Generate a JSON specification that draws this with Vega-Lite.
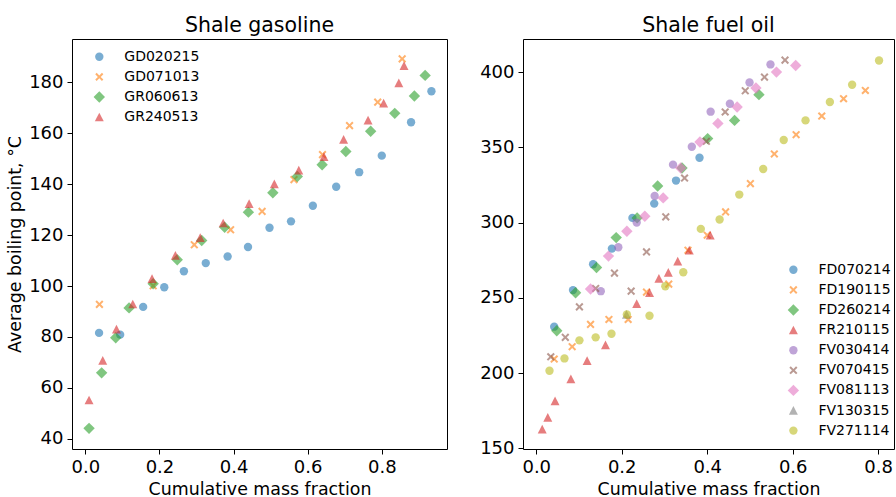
{
  "$schema": "https://vega.github.io/schema/vega-lite/v6.json",
  "padding": {"left": 6, "top": 15, "right": 0, "bottom": 0},
  "spacing": 31,
  "datasets": {
    "gas": [
      {"s":"GD020215","x":0.037,"y":81.6},{"s":"GD020215","x":0.094,"y":80.9},{"s":"GD020215","x":0.156,"y":91.8},{"s":"GD020215","x":0.213,"y":99.5},{"s":"GD020215","x":0.266,"y":105.8},{"s":"GD020215","x":0.325,"y":109.0},{"s":"GD020215","x":0.384,"y":111.6},{"s":"GD020215","x":0.439,"y":115.3},{"s":"GD020215","x":0.497,"y":122.9},{"s":"GD020215","x":0.555,"y":125.4},{"s":"GD020215","x":0.614,"y":131.5},{"s":"GD020215","x":0.677,"y":139.0},{"s":"GD020215","x":0.739,"y":144.7},{"s":"GD020215","x":0.800,"y":151.2},{"s":"GD020215","x":0.879,"y":164.3},{"s":"GD020215","x":0.934,"y":176.5},
      {"s":"GD071013","x":0.038,"y":92.8},{"s":"GD071013","x":0.183,"y":100.1},{"s":"GD071013","x":0.294,"y":116.2},{"s":"GD071013","x":0.392,"y":122.1},{"s":"GD071013","x":0.477,"y":129.3},{"s":"GD071013","x":0.563,"y":141.8},{"s":"GD071013","x":0.640,"y":151.6},{"s":"GD071013","x":0.713,"y":163.0},{"s":"GD071013","x":0.789,"y":172.2},{"s":"GD071013","x":0.855,"y":189.2},
      {"s":"GR060613","x":0.010,"y":44.1},{"s":"GR060613","x":0.044,"y":65.9},{"s":"GR060613","x":0.082,"y":79.7},{"s":"GR060613","x":0.118,"y":91.4},{"s":"GR060613","x":0.183,"y":100.9},{"s":"GR060613","x":0.248,"y":110.3},{"s":"GR060613","x":0.314,"y":117.9},{"s":"GR060613","x":0.376,"y":123.1},{"s":"GR060613","x":0.440,"y":129.0},{"s":"GR060613","x":0.506,"y":136.6},{"s":"GR060613","x":0.572,"y":143.0},{"s":"GR060613","x":0.639,"y":147.6},{"s":"GR060613","x":0.703,"y":152.8},{"s":"GR060613","x":0.770,"y":160.8},{"s":"GR060613","x":0.835,"y":167.8},{"s":"GR060613","x":0.888,"y":174.6},{"s":"GR060613","x":0.917,"y":182.7},
      {"s":"GR240513","x":0.010,"y":55.2},{"s":"GR240513","x":0.047,"y":70.8},{"s":"GR240513","x":0.084,"y":83.0},{"s":"GR240513","x":0.128,"y":92.9},{"s":"GR240513","x":0.180,"y":102.9},{"s":"GR240513","x":0.243,"y":112.0},{"s":"GR240513","x":0.310,"y":119.0},{"s":"GR240513","x":0.372,"y":124.7},{"s":"GR240513","x":0.442,"y":132.3},{"s":"GR240513","x":0.510,"y":140.1},{"s":"GR240513","x":0.576,"y":145.5},{"s":"GR240513","x":0.644,"y":150.8},{"s":"GR240513","x":0.697,"y":157.5},{"s":"GR240513","x":0.763,"y":165.1},{"s":"GR240513","x":0.805,"y":171.8},{"s":"GR240513","x":0.846,"y":179.7},{"s":"GR240513","x":0.860,"y":186.5}
    ],
    "oil": [
      {"s":"FD070214","x":0.042,"y":230.8},{"s":"FD070214","x":0.086,"y":255.1},{"s":"FD070214","x":0.133,"y":272.3},{"s":"FD070214","x":0.177,"y":282.7},{"s":"FD070214","x":0.225,"y":303.1},{"s":"FD070214","x":0.276,"y":312.6},{"s":"FD070214","x":0.327,"y":327.9},{"s":"FD070214","x":0.382,"y":343.1},
      {"s":"FD190115","x":0.042,"y":209.3},{"s":"FD190115","x":0.084,"y":217.5},{"s":"FD190115","x":0.127,"y":232.3},{"s":"FD190115","x":0.170,"y":235.6},{"s":"FD190115","x":0.215,"y":235.6},{"s":"FD190115","x":0.258,"y":253.8},{"s":"FD190115","x":0.310,"y":259.1},{"s":"FD190115","x":0.355,"y":281.6},{"s":"FD190115","x":0.400,"y":291.6},{"s":"FD190115","x":0.443,"y":307.1},{"s":"FD190115","x":0.501,"y":325.9},{"s":"FD190115","x":0.557,"y":345.6},{"s":"FD190115","x":0.608,"y":358.4},{"s":"FD190115","x":0.668,"y":370.8},{"s":"FD190115","x":0.719,"y":382.3},{"s":"FD190115","x":0.770,"y":387.8},
      {"s":"FD260214","x":0.048,"y":228.1},{"s":"FD260214","x":0.092,"y":253.3},{"s":"FD260214","x":0.141,"y":270.1},{"s":"FD260214","x":0.187,"y":290.0},{"s":"FD260214","x":0.236,"y":303.1},{"s":"FD260214","x":0.284,"y":324.3},{"s":"FD260214","x":0.341,"y":336.3},{"s":"FD260214","x":0.401,"y":355.8},{"s":"FD260214","x":0.464,"y":367.9},{"s":"FD260214","x":0.521,"y":385.0},
      {"s":"FR210115","x":0.014,"y":162.6},{"s":"FR210115","x":0.027,"y":170.4},{"s":"FR210115","x":0.044,"y":181.4},{"s":"FR210115","x":0.081,"y":196.0},{"s":"FR210115","x":0.119,"y":208.2},{"s":"FR210115","x":0.162,"y":218.6},{"s":"FR210115","x":0.235,"y":246.0},{"s":"FR210115","x":0.265,"y":253.3},{"s":"FR210115","x":0.287,"y":262.8},{"s":"FR210115","x":0.309,"y":266.8},{"s":"FR210115","x":0.331,"y":274.3},{"s":"FR210115","x":0.358,"y":281.6},{"s":"FR210115","x":0.407,"y":291.6},
      {"s":"FV030414","x":0.151,"y":254.4},{"s":"FV030414","x":0.192,"y":283.6},{"s":"FV030414","x":0.235,"y":300.0},{"s":"FV030414","x":0.277,"y":317.7},{"s":"FV030414","x":0.320,"y":338.5},{"s":"FV030414","x":0.364,"y":350.4},{"s":"FV030414","x":0.408,"y":373.7},{"s":"FV030414","x":0.453,"y":379.0},{"s":"FV030414","x":0.499,"y":393.1},{"s":"FV030414","x":0.548,"y":405.1},
      {"s":"FV070415","x":0.034,"y":210.8},{"s":"FV070415","x":0.068,"y":223.7},{"s":"FV070415","x":0.101,"y":244.0},{"s":"FV070415","x":0.139,"y":256.2},{"s":"FV070415","x":0.183,"y":266.4},{"s":"FV070415","x":0.222,"y":254.4},{"s":"FV070415","x":0.258,"y":280.5},{"s":"FV070415","x":0.303,"y":303.8},{"s":"FV070415","x":0.347,"y":329.6},{"s":"FV070415","x":0.398,"y":354.0},{"s":"FV070415","x":0.442,"y":373.5},{"s":"FV070415","x":0.489,"y":387.6},{"s":"FV070415","x":0.534,"y":396.7},{"s":"FV070415","x":0.582,"y":408.0},
      {"s":"FV081113","x":0.127,"y":255.8},{"s":"FV081113","x":0.169,"y":277.7},{"s":"FV081113","x":0.212,"y":294.2},{"s":"FV081113","x":0.254,"y":304.2},{"s":"FV081113","x":0.297,"y":316.4},{"s":"FV081113","x":0.338,"y":336.3},{"s":"FV081113","x":0.383,"y":353.5},{"s":"FV081113","x":0.425,"y":365.9},{"s":"FV081113","x":0.470,"y":376.8},{"s":"FV081113","x":0.514,"y":389.4},{"s":"FV081113","x":0.562,"y":400.0},{"s":"FV081113","x":0.607,"y":404.4},
      {"s":"FV130315","x":0.211,"y":238.9},
      {"s":"FV271114","x":0.031,"y":201.5},{"s":"FV271114","x":0.066,"y":209.7},{"s":"FV271114","x":0.101,"y":221.7},{"s":"FV271114","x":0.139,"y":223.7},{"s":"FV271114","x":0.176,"y":226.1},{"s":"FV271114","x":0.212,"y":238.9},{"s":"FV271114","x":0.265,"y":238.1},{"s":"FV271114","x":0.302,"y":257.7},{"s":"FV271114","x":0.344,"y":267.0},{"s":"FV271114","x":0.385,"y":295.8},{"s":"FV271114","x":0.429,"y":302.0},{"s":"FV271114","x":0.475,"y":318.6},{"s":"FV271114","x":0.531,"y":335.6},{"s":"FV271114","x":0.579,"y":354.9},{"s":"FV271114","x":0.630,"y":367.9},{"s":"FV271114","x":0.687,"y":380.1},{"s":"FV271114","x":0.739,"y":391.6},{"s":"FV271114","x":0.802,"y":407.7}
    ]
  },
  "hconcat": [
    {
      "width": 375,
      "height": 410,
      "title": {"text": "Shale gasoline"},
      "data": {"name": "gas"},
      "mark": {"type": "point", "filled": true, "opacity": 0.6},
      "encoding": {
        "x": {"field": "x", "type": "quantitative", "scale": {"domain": [-0.036, 0.976], "nice": false, "zero": false}, "axis": {"title": "Cumulative mass fraction", "values": [0, 0.2, 0.4, 0.6, 0.8], "format": ".1f"}},
        "y": {"field": "y", "type": "quantitative", "scale": {"domain": [36.0, 197.0], "nice": false, "zero": false}, "axis": {"title": "Average boiling point, °C", "values": [40, 60, 80, 100, 120, 140, 160, 180]}},
        "color": {"field": "s", "type": "nominal", "scale": {"domain": ["GD020215", "GD071013", "GR060613", "GR240513"], "range": ["#1f77b4", "#ff7f0e", "#2ca02c", "#d62728"]}, "legend": {"title": null, "orient": "none", "legendX": 20.3, "legendY": 10.8}},
        "shape": {"field": "s", "type": "nominal", "scale": {"domain": ["GD020215", "GD071013", "GR060613", "GR240513"], "range": ["circle", "M-0.65,-1L0,-0.35L0.65,-1L1,-0.65L0.35,0L1,0.65L0.65,1L0,0.35L-0.65,1L-1,0.65L-0.35,0L-1,-0.65Z", "M-1,0L0,-1L1,0L0,1Z", "M0,-1L1,0.95L-1,0.95Z"]}},
        "size": {"field": "s", "type": "nominal", "scale": {"type": "ordinal", "domain": ["GD020215", "GD071013", "GR060613", "GR240513"], "range": [70, 66, 130, 80]}}
      }
    },
    {
      "width": 371,
      "height": 410,
      "title": {"text": "Shale fuel oil"},
      "data": {"name": "oil"},
      "mark": {"type": "point", "filled": true, "opacity": 0.6},
      "encoding": {
        "x": {"field": "x", "type": "quantitative", "scale": {"domain": [-0.031, 0.837], "nice": false, "zero": false}, "axis": {"title": "Cumulative mass fraction", "values": [0, 0.2, 0.4, 0.6, 0.8], "format": ".1f"}},
        "y": {"field": "y", "type": "quantitative", "scale": {"domain": [149.5, 422.0], "nice": false, "zero": false}, "axis": {"title": null, "values": [150, 200, 250, 300, 350, 400]}},
        "color": {"field": "s", "type": "nominal", "scale": {"domain": ["FD070214", "FD190115", "FD260214", "FR210115", "FV030414", "FV070415", "FV081113", "FV130315", "FV271114"], "range": ["#1f77b4", "#ff7f0e", "#2ca02c", "#d62728", "#9467bd", "#8c564b", "#e377c2", "#7f7f7f", "#bcbd22"]}, "legend": {"title": null, "orient": "none", "legendX": 263.4, "legendY": 223.8}},
        "shape": {"field": "s", "type": "nominal", "scale": {"domain": ["FD070214", "FD190115", "FD260214", "FR210115", "FV030414", "FV070415", "FV081113", "FV130315", "FV271114"], "range": ["circle", "M-0.65,-1L0,-0.35L0.65,-1L1,-0.65L0.35,0L1,0.65L0.65,1L0,0.35L-0.65,1L-1,0.65L-0.35,0L-1,-0.65Z", "M-1,0L0,-1L1,0L0,1Z", "M0,-1L1,0.95L-1,0.95Z", "circle", "M-0.65,-1L0,-0.35L0.65,-1L1,-0.65L0.35,0L1,0.65L0.65,1L0,0.35L-0.65,1L-1,0.65L-0.35,0L-1,-0.65Z", "M-1,0L0,-1L1,0L0,1Z", "M0,-1L1,0.95L-1,0.95Z", "circle"]}},
        "size": {"field": "s", "type": "nominal", "scale": {"type": "ordinal", "domain": ["FD070214", "FD190115", "FD260214", "FR210115", "FV030414", "FV070415", "FV081113", "FV130315", "FV271114"], "range": [70, 66, 130, 80, 70, 66, 130, 80, 70]}}
      }
    }
  ],
  "resolve": {"scale": {"color": "independent", "shape": "independent", "size": "independent", "x": "independent", "y": "independent"}},
  "config": {
    "font": "DejaVu Sans",
    "view": {"stroke": "#000", "strokeWidth": 1},
    "axis": {"domain": false, "grid": false, "ticks": true, "tickSize": 5, "tickColor": "#000", "labelFontSize": 18, "labelColor": "#000", "labelPadding": 4, "labelFlush": false, "labelOverlap": false, "titleFontSize": 17.4, "titleFontWeight": "normal", "titleColor": "#000", "titlePadding": 4},
    "legend": {"labelFontSize": 14, "labelColor": "#000", "symbolOpacity": 0.6, "rowPadding": 6.1, "labelOffset": 18, "padding": 0, "symbolStrokeWidth": 0},
    "title": {"fontSize": 20.5, "fontWeight": "normal", "color": "#000", "offset": 3}
  }
}
